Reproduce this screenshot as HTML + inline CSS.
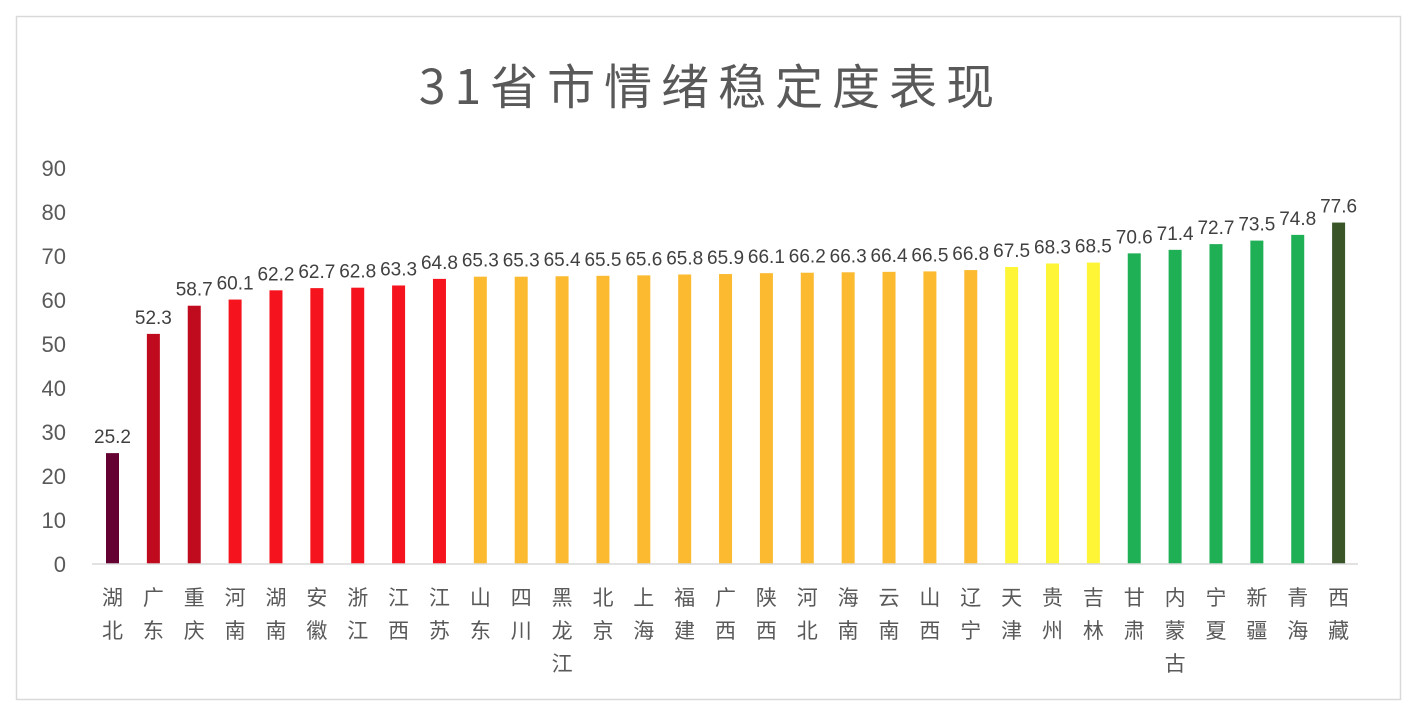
<!DOCTYPE html>
<html><head><meta charset="utf-8"><style>
body{margin:0;background:#fff;}
svg{display:block;font-family:"Liberation Sans","Noto Sans CJK SC",sans-serif;}
</style></head><body>
<svg id="chart" width="1418" height="716" viewBox="0 0 1418 716">
<rect x="16.5" y="16.5" width="1384" height="683" fill="#fff" stroke="#d9d9d9" stroke-width="1.5"/>
<text x="711" y="104" text-anchor="middle" font-size="48" fill="#595959" letter-spacing="9" font-family="'Noto Sans CJK SC',sans-serif">31省市情绪稳定度表现</text>
<g id="yaxis"></g>
<g id="bars"></g>
<line x1="92" y1="564" x2="1358" y2="564" stroke="#d9d9d9" stroke-width="1.5"/>
</svg>
<script>
const categories=["湖北","广东","重庆","河南","湖南","安徽","浙江","江西","江苏","山东","四川","黑龙江","北京","上海","福建","广西","陕西","河北","海南","云南","山西","辽宁","天津","贵州","吉林","甘肃","内蒙古","宁夏","新疆","青海","西藏"];
const values=[25.2,52.3,58.7,60.1,62.2,62.7,62.8,63.3,64.8,65.3,65.3,65.4,65.5,65.6,65.8,65.9,66.1,66.2,66.3,66.4,66.5,66.8,67.5,68.3,68.5,70.6,71.4,72.7,73.5,74.8,77.6];
const colorGroups=["#640032","#c00a1e","#c00a1e","#f5141e","#f5141e","#f5141e","#f5141e","#f5141e","#f5141e","#fbba30","#fbba30","#fbba30","#fbba30","#fbba30","#fbba30","#fbba30","#fbba30","#fbba30","#fbba30","#fbba30","#fbba30","#fbba30","#fef536","#fef536","#fef536","#1faf55","#1faf55","#1faf55","#1faf55","#1faf55","#3a5528"];
const yTicks=[0,10,20,30,40,50,60,70,80,90];
const NS="http://www.w3.org/2000/svg";
const y0=564,pxPer=4.4;
function yPos(v){return y0-v*pxPer;}
function xPos(i){return 112.5+i*40.87;}
const ya=document.getElementById('yaxis');
yTicks.forEach(t=>{
  const tx=document.createElementNS(NS,'text');
  
  
  tx.setAttribute('x',66);tx.setAttribute('y',yPos(t)+8);
  tx.setAttribute('text-anchor','end');tx.setAttribute('font-size','22');tx.setAttribute('fill','#595959');
  tx.textContent=t;ya.appendChild(tx);
});
const g=document.getElementById('bars');
values.forEach((v,i)=>{
  const r=document.createElementNS(NS,'rect');
  
  
  const x=xPos(i);
  r.setAttribute('x',x-6.5);r.setAttribute('width',13);
  r.setAttribute('y',yPos(v));r.setAttribute('height',v*pxPer);
  r.setAttribute('fill',colorGroups[i]);g.appendChild(r);
  const t=document.createElementNS(NS,'text');
  
  
  t.setAttribute('x',x);t.setAttribute('y',yPos(v)-10);
  t.setAttribute('text-anchor','middle');t.setAttribute('font-size','19');t.setAttribute('fill','#404040');
  t.textContent=v.toFixed(1);g.appendChild(t);
  [...categories[i]].forEach((ch,k)=>{
    const c=document.createElementNS(NS,'text');
    
    
    c.setAttribute('x',x);c.setAttribute('y',605+k*33);
    c.setAttribute('text-anchor','middle');c.setAttribute('font-size','21');c.setAttribute('fill','#595959');
    c.textContent=ch;g.appendChild(c);
  });
});
</script>
</body></html>
